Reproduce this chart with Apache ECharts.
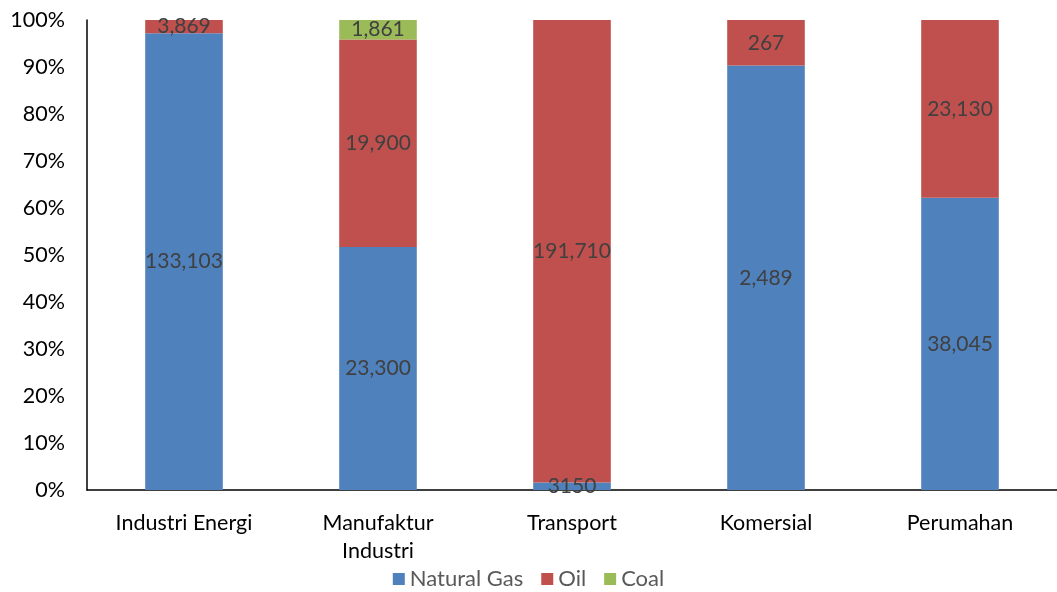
<!DOCTYPE html>
<html><head><meta charset="utf-8">
<script src="https://cdn.jsdelivr.net/npm/echarts@6/dist/echarts.min.js"></script>
<style>html,body{margin:0;padding:0;background:#fff}#c{width:1057px;height:592px}</style>
</head><body><div id="c"></div>
<script>
const categories = ["Industri Energi", "Manufaktur Industri", "Transport", "Komersial", "Perumahan"];
const naturalGas = [133103, 23300, 3150, 2489, 38045];
const oil = [3869, 19900, 191710, 267, 23130];
const coal = [0, 1861, 0, 0, 0];
const labelText = {
  "Natural Gas": ["133,103", "23,300", "3150", "2,489", "38,045"],
  "Oil": ["3,869", "19,900", "191,710", "267", "23,130"],
  "Coal": ["", "1,861", "", "", ""]
};
const yTicks = [0, 10, 20, 30, 40, 50, 60, 70, 80, 90, 100];

const totals = categories.map((_, i) => naturalGas[i] + oil[i] + coal[i]);
const pct = arr => arr.map((v, i) => v === 0 ? null : v / totals[i] * 100);

const FONT = 'Lato, "Open Sans", sans-serif';
const mk = (name, raw, color) => ({
  name, type: 'bar', stack: 'all', barWidth: '40%',
  data: pct(raw),
  itemStyle: { color },
  label: {
    show: true, position: 'inside', color: '#404040', fontSize: 21, fontFamily: FONT,
    formatter: p => labelText[name][p.dataIndex]
  }
});

const chart = echarts.init(document.getElementById('c'));
chart.setOption({
  animation: false,
  textStyle: { fontFamily: FONT },
  grid: { left: 87, right: 0, top: 20, bottom: 102, containLabel: false },
  legend: {
    top: 568, left: 'center', padding: [0, 5], itemWidth: 12, itemHeight: 12, itemGap: 18,
    icon: 'rect',
    textStyle: { color: '#595959', fontSize: 22, fontFamily: FONT },
    data: ['Natural Gas', 'Oil', 'Coal']
  },
  xAxis: {
    type: 'category', data: categories,
    axisLine: { lineStyle: { color: '#000', width: 1.5 } },
    axisTick: { show: false },
    axisLabel: {
      color: '#000', fontSize: 21.5, fontFamily: FONT, margin: 19, interval: 0, lineHeight: 28,
      formatter: v => v === 'Manufaktur Industri' ? 'Manufaktur\nIndustri' : v
    }
  },
  yAxis: {
    type: 'value', min: 0, max: 100, interval: 10,
    axisLine: { show: true, lineStyle: { color: '#000', width: 1.5 } },
    axisTick: { show: false },
    splitLine: { show: false },
    axisLabel: { color: '#000', fontSize: 21.5, fontFamily: FONT, margin: 22,
      formatter: v => yTicks.includes(v) ? v + '%' : '' }
  },
  series: [
    mk('Natural Gas', naturalGas, '#4F81BD'),
    mk('Oil', oil, '#C0504D'),
    mk('Coal', coal, '#9BBB59')
  ]
});
</script></body></html>
